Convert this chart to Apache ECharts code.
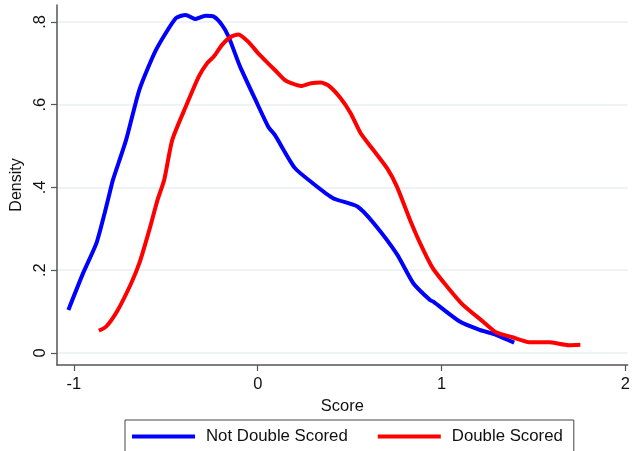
<!DOCTYPE html>
<html>
<head>
<meta charset="utf-8">
<script src="https://cdn.jsdelivr.net/npm/echarts@6/dist/echarts.min.js"></script>
<style>html,body{margin:0;padding:0;background:#fff}#c{width:633px;height:451px}</style>
</head>
<body>
<div id="c"></div>
<script>
const notDoubleX = [-1.03,-0.95,-0.878,-0.833,-0.806,-0.788,-0.716,-0.644,-0.554,-0.446,-0.392,-0.339,-0.285,-0.24,-0.195,-0.159,-0.096,0.0,0.057,0.093,0.2,0.30,0.41,0.542,0.632,0.757,0.847,0.937,0.955,1.099,1.207,1.296,1.395];
const notDoubleY = [0.104,0.193,0.265,0.338,0.386,0.418,0.515,0.636,0.732,0.809,0.817,0.807,0.815,0.813,0.793,0.765,0.692,0.60,0.547,0.527,0.448,0.41,0.374,0.354,0.313,0.239,0.168,0.128,0.124,0.076,0.056,0.044,0.025];
const doubleX = [-0.864,-0.824,-0.761,-0.689,-0.644,-0.59,-0.545,-0.509,-0.465,-0.392,-0.321,-0.276,-0.24,-0.195,-0.15,-0.105,-0.051,0.003,0.047,0.093,0.146,0.182,0.236,0.290,0.344,0.389,0.452,0.506,0.56,0.614,0.704,0.757,0.829,0.892,0.955,1.108,1.225,1.296,1.386,1.476,1.584,1.692,1.755];
const doubleY = [0.054,0.064,0.104,0.168,0.217,0.297,0.37,0.418,0.515,0.595,0.668,0.700,0.716,0.744,0.763,0.770,0.752,0.724,0.704,0.684,0.660,0.652,0.645,0.652,0.654,0.645,0.615,0.579,0.531,0.499,0.446,0.402,0.321,0.257,0.203,0.12,0.076,0.05,0.038,0.026,0.026,0.019,0.02];
const xTicks = [-1, 0, 1, 2];
const yTicks = [0, 0.2, 0.4, 0.6, 0.8];
const yTickLabels = ['0', '.2', '.4', '.6', '.8'];
const seriesNames = ['Not Double Scored', 'Double Scored'];

const zip = (xs, ys) => xs.map((x, i) => [x, ys[i]]);
const font = 'Liberation Sans, Arial, sans-serif';
const chart = echarts.init(document.getElementById('c'), null, {renderer: 'canvas'});
chart.setOption({
  animation: false,
  backgroundColor: '#ffffff',
  grid: {left: 57, right: 0, top: 5, bottom: 86, containLabel: false},
  xAxis: {
    type: 'value', min: -1.092, max: 2.012,
    name: 'Score', nameLocation: 'middle', nameGap: 31,
    nameTextStyle: {fontFamily: font, fontSize: 16.5, color: '#111'},
    axisLine: {onZero: false, lineStyle: {color: '#555', width: 1.5}},
    axisTick: {show: true, length: 6, customValues: xTicks, lineStyle: {color: '#555', width: 1.2}},
    axisLabel: {customValues: xTicks, margin: 11, fontFamily: font, fontSize: 16.5, color: '#111'},
    splitLine: {show: false}
  },
  yAxis: {
    type: 'value', min: -0.029, max: 0.841,
    name: 'Density', nameLocation: 'middle', nameGap: 30,
    nameTextStyle: {fontFamily: font, fontSize: 16, color: '#111'},
    axisLine: {show: true, onZero: false, lineStyle: {color: '#555', width: 1.5}},
    axisTick: {show: true, length: 6, customValues: yTicks, lineStyle: {color: '#555', width: 1.2}},
    axisLabel: {customValues: yTicks, rotate: 90, margin: 8, fontFamily: font, fontSize: 16.5, color: '#111',
      formatter: v => { const i = yTicks.findIndex(t => Math.abs(t - v) < 1e-9); return i >= 0 ? yTickLabels[i] : ''; }},
    splitLine: {show: true, lineStyle: {color: '#e8f0f2', width: 1.5}}
  },
  legend: {
    left: 125, top: 420, orient: 'horizontal',
    data: seriesNames,
    icon: 'rect', itemWidth: 63, itemHeight: 4, itemGap: 30,
    borderColor: '#444', borderWidth: 1, padding: [8, 11, 20, 7],
    textStyle: {fontFamily: font, fontSize: 16.8, color: '#111', padding: [0, 0, 0, 6]}
  },
  series: [
    {name: seriesNames[0], type: 'line', data: zip(notDoubleX, notDoubleY), showSymbol: false, smooth: 0.2,
     lineStyle: {color: '#0000ff', width: 4}, itemStyle: {color: '#0000ff'}},
    {name: seriesNames[1], type: 'line', data: zip(doubleX, doubleY), showSymbol: false, smooth: 0.2,
     lineStyle: {color: '#ff0000', width: 4}, itemStyle: {color: '#ff0000'}}
  ]
});
</script>
</body>
</html>
